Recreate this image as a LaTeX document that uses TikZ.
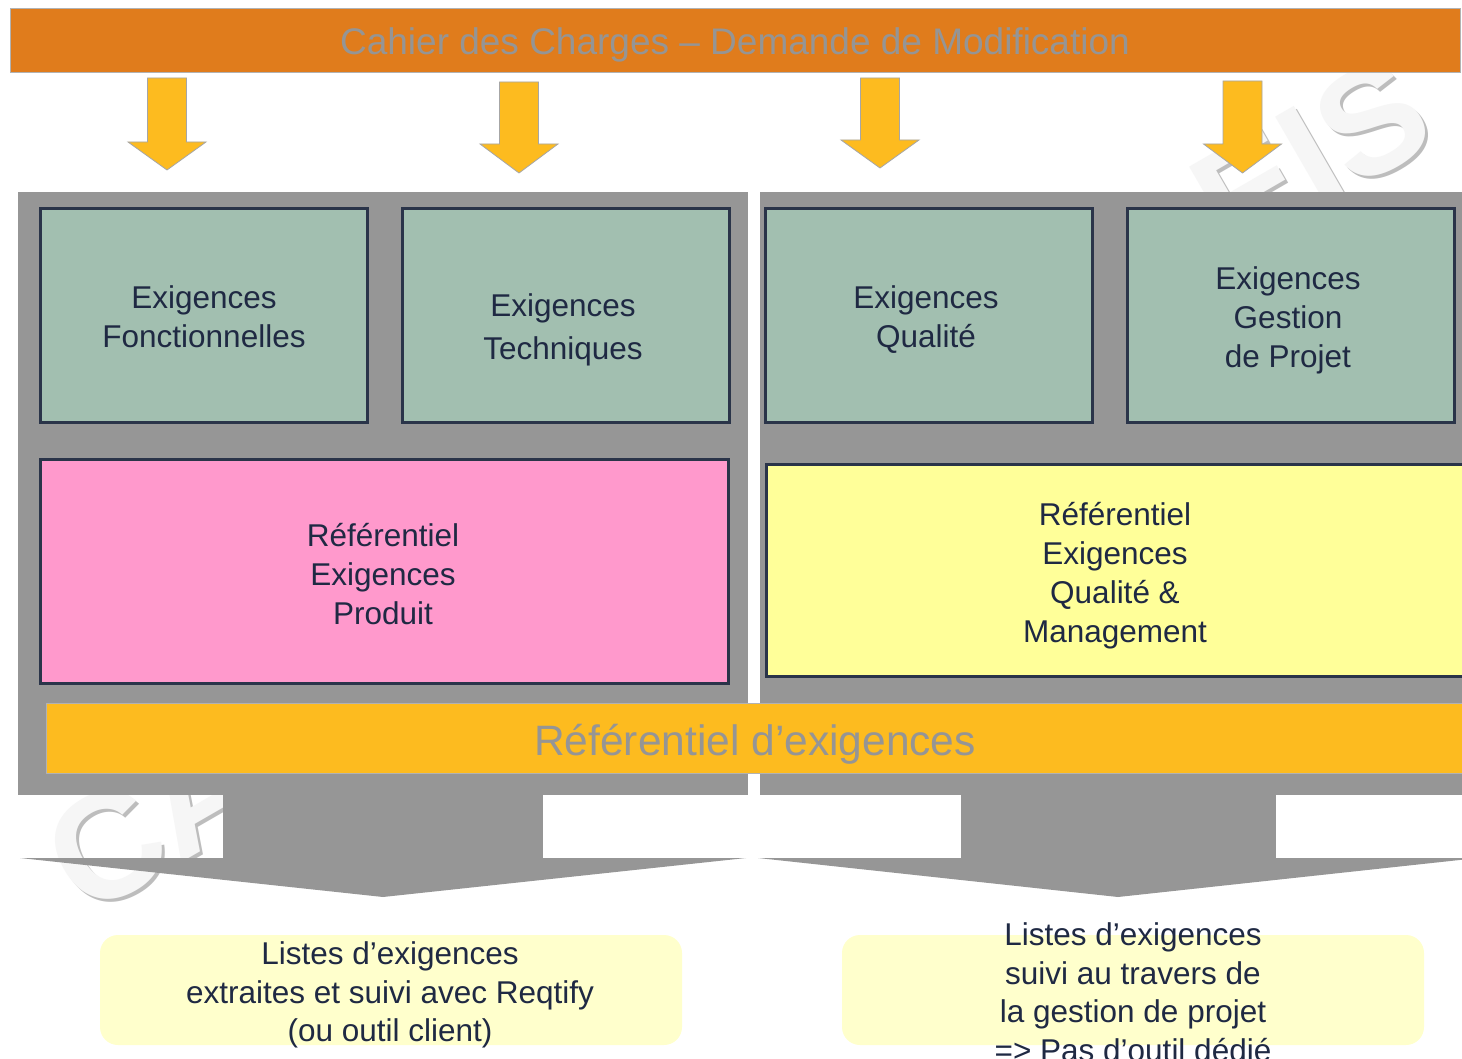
\documentclass[tikz,border=0pt]{standalone}
\usepackage{fontspec}
\setmainfont{Liberation Sans}
\definecolor{bannerorange}{HTML}{E07C1C}
\definecolor{amber}{HTML}{FDBB1F}
\definecolor{panelgray}{HTML}{969696}
\definecolor{sage}{HTML}{A2BFB0}
\definecolor{navyline}{HTML}{2A3449}
\definecolor{navytext}{HTML}{1F2943}
\definecolor{pinkfill}{HTML}{FF99CC}
\definecolor{yellowfill}{HTML}{FFFF99}
\definecolor{paleyellow}{HTML}{FFFFCC}
\definecolor{titlegray}{HTML}{959595}
\definecolor{wmfill}{HTML}{F6F6F6}
\definecolor{wmshadow}{HTML}{BDBDBD}
\newcommand\yarr[4]{% center x, shaft top, head start, tip
  \draw[yarrowstyle] ({#1-19.5},#2) -- ({#1+19.5},#2) -- ({#1+19.5},#3) -- ({#1+39},#3)
    -- (#1,#4) -- ({#1-39},#3) -- ({#1-19.5},#3) -- cycle;}
\tikzset{
  yarrowstyle/.style={fill=amber, draw=gray!70, line width=0.8},
  reqbox/.style={draw=navyline, line width=3, minimum width=327, minimum height=214, fill=sage},
  bigbox/.style={draw=navyline, line width=3},
  boxtext/.style={align=center, text=navytext, font=\fontsize{31.5}{39}\selectfont, inner sep=0},
  listbox/.style={fill=paleyellow, rounded corners=18, minimum width=582, minimum height=110},
  wm/.style={font=\fontsize{150}{150}\selectfont\bfseries, rotate=30, inner sep=0},
}
\begin{document}
\begin{tikzpicture}[x=1pt,y=-1pt]
\useasboundingbox (0,0) rectangle (1462,1059);
\clip (0,0) rectangle (1462,1059);
\fill[white] (0,0) rectangle (1462,1059);

% watermark
\node[wm, text=wmshadow] (wmCAs) at (156,823) {CA};
\node[wm, text=wmfill] (wmCA) at (153,820) {CA};
\node[wm, text=wmshadow] (wmEISs) at (1314,159) {EIS};
\node[wm, text=wmfill] (wmEIS) at (1311,156) {EIS};

% gray panels and output arrows
\fill[panelgray] (18,192) rectangle (748,795);
\fill[panelgray] (760,192) rectangle (1462,795);
\fill[panelgray] (223,794) rectangle (543,858.5);
\fill[panelgray] (20,858) -- (746,858) -- (383,897) -- cycle;
\fill[panelgray] (961,794) rectangle (1276,858.5);
\fill[panelgray] (758,858) -- (1478,858) -- (1118,897) -- cycle;

% banner
\node[fill=bannerorange, draw=gray!60, line width=0.8, minimum width=1450, minimum height=64] (banner) at (735,40) {};
\node[text=titlegray, font=\fontsize{37}{44}\selectfont, inner sep=0] (bannerT) at (735,45)
      {Cahier des Charges – Demande de Modification};

% input arrows
\yarr{167}{78}{142}{170}
\yarr{519}{82}{144}{173}
\yarr{880}{78}{140}{168}
\yarr{1242.5}{81}{144}{173}

% requirement boxes
\node[reqbox] (fonc) at (204,315.5) {};
\node[reqbox] (tech) at (566,315.5) {};
\node[reqbox] (qual) at (928.5,315.5) {};
\node[reqbox] (gest) at (1290.5,315.5) {};
\node[boxtext] (foncT) at (204,317) {Exigences\\Fonctionnelles};
\node[boxtext] (techT) at (563,330) {Exigences\\[4pt]Techniques};
\node[boxtext] (qualT) at (926,320) {Exigences\\Qualité};
\node[boxtext] (gestT) at (1288,320) {Exigences\\Gestion\\de Projet};

\node[bigbox, fill=pinkfill, minimum width=688, minimum height=224] (prod) at (384.5,571.5) {};
\node[boxtext] (prodT) at (383,574) {Référentiel\\Exigences\\Produit};
\node[bigbox, fill=yellowfill, minimum width=710, minimum height=212] (qm) at (1121.5,570.5) {};
\node[boxtext] (qmT) at (1115,576) {Référentiel\\Exigences\\Qualité \&\\Management};

% band
\node[fill=amber, draw=gray!60, line width=0.8, minimum width=1418, minimum height=70] (band) at (755,738) {};
\node[text=titlegray, font=\fontsize{42.5}{50}\selectfont, inner sep=0] (bandT) at (755,744)
      {Référentiel d’exigences};

% output lists
\node[listbox] (listL) at (391,990) {};
\node[listbox] (listR) at (1133,990) {};
\node[boxtext, font=\fontsize{31.5}{38.5}\selectfont] (listLT) at (390,995)
  {Listes d’exigences\\extraites et suivi avec Reqtify\\(ou outil client)};
\node[boxtext, font=\fontsize{31.5}{38.5}\selectfont] (listRT) at (1133,992)
  {Listes d’exigences\\suivi au travers de\\la gestion de projet\\=> Pas d’outil dédié};
\end{tikzpicture}
\end{document}
